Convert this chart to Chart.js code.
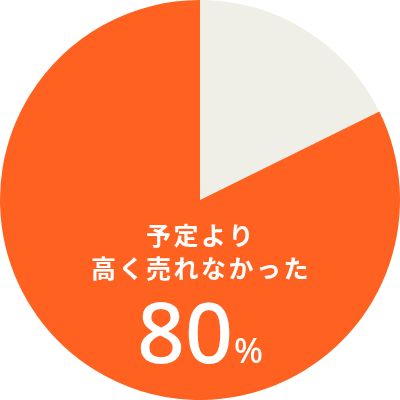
<!DOCTYPE html>
<html>
<head>
<meta charset="utf-8">
<script src="https://cdn.jsdelivr.net/npm/chart.js@4"></script>
<style>
html,body{margin:0;padding:0;background:#fff;}
#wrap{width:400px;height:400px;position:relative;}
</style>
</head>
<body>
<div id="wrap"><canvas id="c"></canvas></div>
<script>
const categories = ["予定より高く売れた", "予定より高く売れなかった"];
const values = [17.7, 82.3];
const colors = ["#EFEFE7", "#FF6121"];
const labelLines = ["予定より", "高く売れなかった"];
const percentText = "80";
const percentSign = "%";

const centerText = {
  id: "centerText",
  afterDraw(chart) {
    const ctx = chart.ctx;
    const cx = chart.chartArea.left + (chart.chartArea.right - chart.chartArea.left) / 2;
    ctx.save();
    ctx.fillStyle = "#ffffff";
    ctx.textAlign = "center";
    ctx.textBaseline = "middle";
    ctx.font = "700 25px 'Noto Sans CJK JP'";
    try { ctx.letterSpacing = "2.5px"; } catch (e) {}
    ctx.fillText(labelLines[0], cx + 1, 235);
    ctx.fillText(labelLines[1], cx + 1, 268);
    try { ctx.letterSpacing = "0px"; } catch (e) {}
    ctx.textBaseline = "alphabetic";
    ctx.font = "500 84px 'Noto Sans'";
    const w1 = ctx.measureText(percentText).width;
    ctx.font = "500 34px 'Noto Sans'";
    const w2 = ctx.measureText(percentSign).width;
    const gap = 1;
    const total = w1 + w2 + gap;
    const x0 = cx - total / 2;
    ctx.textAlign = "left";
    ctx.font = "500 84px 'Noto Sans'";
    ctx.fillText(percentText, x0, 363);
    ctx.font = "500 34px 'Noto Sans'";
    ctx.fillText(percentSign, x0 + w1 + gap, 363);
    ctx.restore();
  }
};

new Chart(document.getElementById("c"), {
  type: "pie",
  data: {
    labels: categories,
    datasets: [{
      data: values,
      backgroundColor: colors,
      borderWidth: 0,
      hoverOffset: 0
    }]
  },
  options: {
    responsive: true,
    maintainAspectRatio: false,
    animation: false,
    layout: { padding: 0 },
    plugins: {
      legend: { display: false },
      tooltip: { enabled: false }
    }
  },
  plugins: [centerText]
});
</script>
</body>
</html>
